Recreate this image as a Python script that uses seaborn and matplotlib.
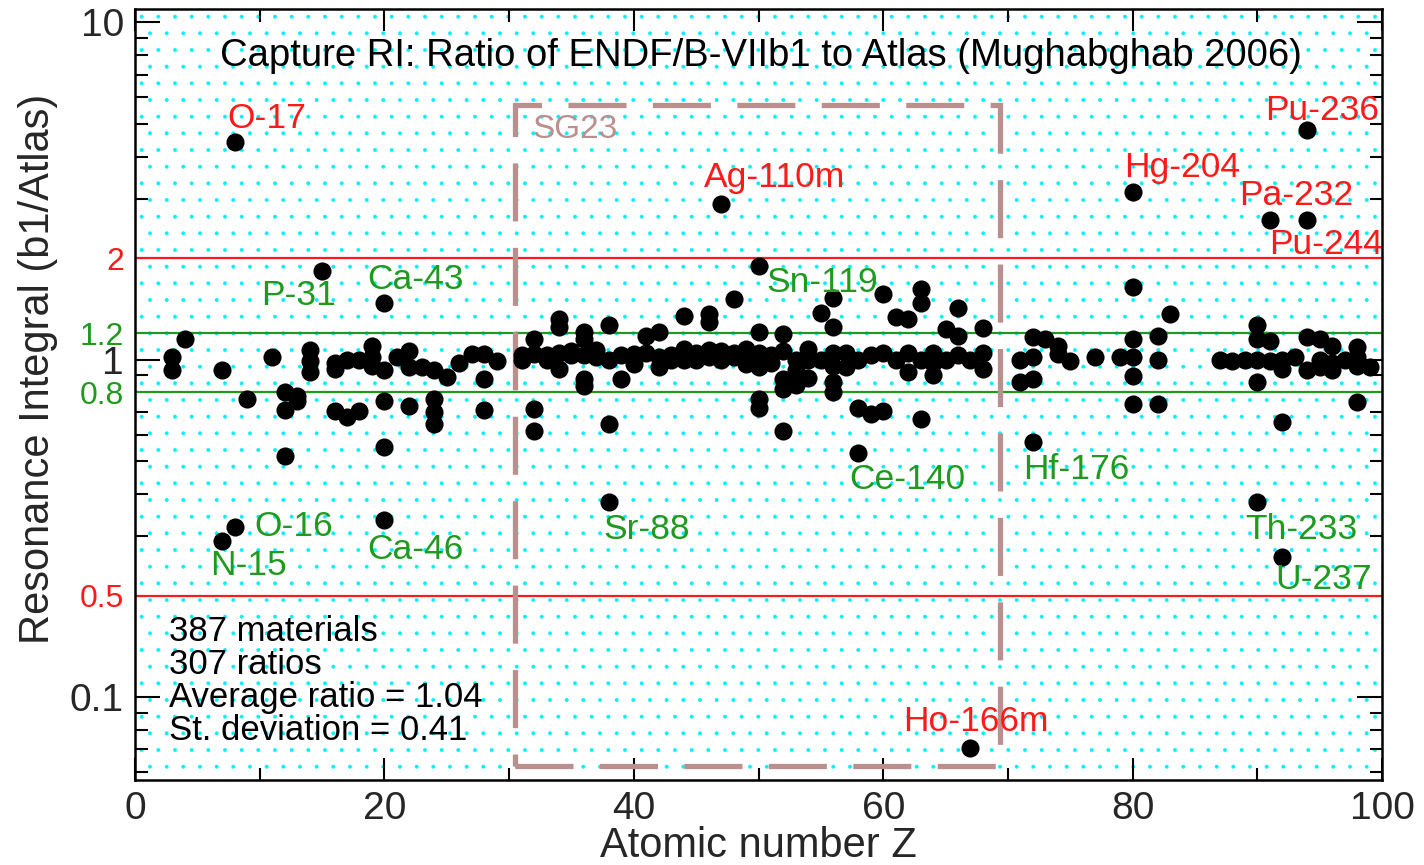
import numpy as np
import pandas as pd
import matplotlib
matplotlib.use("Agg")
import matplotlib.pyplot as plt
import matplotlib.patches as mpatches
import seaborn as sns

# ---------------------------------
# Data: atomic number Z and ratio b1/Atlas
# ---------------------------------

z_vals = [
    3, 3, 4, 7, 7, 8, 8, 9, 11, 12, 12, 12, 13, 13, 14, 14, 14, 15,
    16, 16, 16, 17, 17, 18, 18, 19, 19, 19, 20, 20, 20, 20, 20, 21,
    22, 22, 22, 23, 24, 24, 24, 24, 25, 26, 27, 28, 28, 28, 29,
    31, 31, 32, 32, 32, 32, 33, 33, 34, 34, 34, 34, 35, 35,
    36, 36, 36, 36, 36, 37, 37, 38, 38, 38, 38, 39, 39, 40, 40,
    41, 41, 42, 42, 42, 43, 43, 44, 44, 44, 45, 45, 46, 46, 46, 46,
    47, 47, 47, 48, 48, 48, 49, 49, 49, 50, 50, 50, 50, 50, 50,
    51, 51, 52, 52, 52, 52, 52, 53, 53, 53, 54, 54, 54, 55, 55,
    56, 56, 56, 56, 56, 56, 57, 57, 58, 58, 58, 59, 59, 60, 60, 60,
    61, 61, 62, 62, 62, 63, 63, 63, 63, 64, 64, 64, 65, 65,
    66, 66, 66, 67, 67, 68, 68, 68,
    71, 71, 72, 72, 72, 72, 73, 74, 74, 75, 77, 79,
    80, 80, 80, 80, 80, 80, 82, 82, 82, 83, 87, 88, 89,
    90, 90, 90, 90, 90, 91, 91, 91, 92, 92, 92, 92, 93,
    94, 94, 94, 94, 95, 95, 95, 96, 96, 96, 97, 98, 98, 98, 98, 99,
]

ratio_vals = [
    1.02, 0.93, 1.15, 0.93, 0.29, 4.43, 0.32, 0.765, 1.02, 0.80, 0.71, 0.52, 0.755, 0.78, 1.07, 0.99, 0.92, 1.83,
    0.98, 0.94, 0.706, 1.00, 0.675, 1.00, 0.706, 1.10, 1.02, 0.96, 0.93, 1.47, 0.755, 0.55, 0.334, 1.02,
    1.06, 0.95, 0.73, 0.95, 0.93, 0.765, 0.70, 0.645, 0.89, 0.98, 1.04, 1.04, 0.88, 0.71, 0.99,
    1.03, 1.00, 1.15, 1.04, 0.714, 0.616, 1.03, 1.00, 1.32, 1.25, 1.05, 0.94, 1.03, 1.06,
    1.21, 1.15, 1.03, 0.876, 0.837, 1.07, 1.02, 1.27, 1.00, 0.645, 0.38, 0.876, 1.03, 1.04, 0.97,
    1.18, 1.05, 1.21, 1.02, 0.95, 1.03, 1.00, 1.35, 1.08, 1.00, 1.05, 1.00, 1.37, 1.29, 1.07, 1.02,
    2.90, 1.06, 1.00, 1.51, 1.05, 1.02, 1.08, 1.00, 0.97, 1.90, 1.21, 1.05, 0.95, 0.765, 0.72,
    1.03, 0.98, 1.19, 1.06, 0.876, 0.82, 0.616, 1.00, 0.84, 0.93, 1.08, 1.00, 0.886, 1.38, 1.00,
    1.52, 1.25, 1.05, 0.96, 0.857, 0.80, 1.05, 0.95, 1.00, 0.72, 0.53, 1.03, 0.69, 1.57, 1.05, 0.706,
    1.34, 1.00, 1.32, 1.05, 0.918, 1.62, 1.47, 1.00, 0.667, 1.05, 0.98, 0.90, 1.23, 1.00,
    1.42, 1.18, 1.03, 1.00, 0.0708, 1.24, 1.05, 0.94,
    1.00, 0.857, 1.17, 1.02, 0.876, 0.57, 1.15, 1.10, 1.04, 0.99, 1.02, 1.02,
    3.15, 1.64, 1.15, 1.02, 0.893, 0.74, 1.18, 1.00, 0.74, 1.37, 1.00, 0.99, 1.00,
    1.27, 1.15, 1.00, 0.86, 0.38, 2.60, 1.14, 0.99, 1.00, 0.94, 0.655, 0.26, 1.02,
    4.80, 2.60, 1.17, 0.93, 1.15, 0.95, 1.00, 1.10, 0.98, 0.93, 1.00, 1.09, 1.02, 0.96, 0.75, 0.95,
]

# labelled outliers: text, Z position, ratio position
red_labels = ["O-17", "Ag-110m", "Hg-204", "Pu-236", "Pa-232", "Pu-244", "Ho-166m"]
red_label_z = [10.6, 51.3, 84.0, 95.2, 93.1, 95.5, 67.4]
red_label_r = [5.18, 3.48, 3.71, 5.5, 3.06, 2.19, 0.0845]

green_labels = ["P-31", "Ca-43", "Sn-119", "Ce-140", "Hf-176", "Th-233", "U-237",
                "O-16", "N-15", "Ca-46", "Sr-88"]
green_label_z = [13.1, 22.5, 55.1, 61.9, 75.5, 93.5, 95.3, 12.7, 9.1, 22.5, 41.0]
green_label_r = [1.556, 1.735, 1.70, 0.443, 0.473, 0.314, 0.223, 0.321, 0.2456, 0.274, 0.314]

# reference lines and tick labels
ref_red = [2.0, 0.2]
ref_green = [1.2, 0.8]
ytick_pos = [0.1, 0.2, 0.8, 1.0, 1.2, 2.0, 10.0]
ytick_text = ["0.1", "0.5", "0.8", "1", "1.2", "2", "10"]

sg23_z = (30.5, 69.4)
sg23_r = (0.0624, 5.70)

stats_lines = ["387 materials", "307 ratios", "Average ratio = 1.04", "St. deviation = 0.41"]

df = pd.DataFrame({"Z": z_vals, "ratio": ratio_vals})

RED = "#ff1a1a"
GREEN = "#1f9a1f"
SG_COLOR = "#bc8f8f"

# ---------------------------------
# Style
# ---------------------------------

sns.set_style("ticks")
plt.rcParams["font.family"] = ["Liberation Sans", "DejaVu Sans"]
plt.rcParams["hatch.linewidth"] = 0.35

fig = plt.figure(figsize=(14.24, 8.65), dpi=100)
ax = fig.add_axes([135 / 1424, 1 - 780 / 865, (1382 - 135) / 1424, (780 - 9) / 865])

# dotted cyan background
bg = mpatches.Rectangle((0, 0), 1, 1, transform=ax.transAxes, facecolor="white",
                        edgecolor="#00f0ff", linewidth=0, hatch=".", zorder=0)
ax.add_patch(bg)

ax.set_yscale("log")
ax.set_xlim(0, 100)
ax.set_ylim(0.0568, 10.96)

for r in ref_red:
    ax.axhline(r, color=RED, lw=1.6, zorder=2)
for r in ref_green:
    ax.axhline(r, color=GREEN, lw=1.6, zorder=2)

sg_box = mpatches.Rectangle((sg23_z[0], sg23_r[0]), sg23_z[1] - sg23_z[0], sg23_r[1] - sg23_r[0],
                            fill=False, edgecolor=SG_COLOR, lw=3.8, linestyle=(0, (11, 5)), zorder=2)
ax.add_patch(sg_box)

sns.scatterplot(data=df, x="Z", y="ratio", ax=ax, color="black", s=170,
                edgecolor="black", linewidth=0, zorder=3, legend=False)

# ---------------------------------
# Text
# ---------------------------------

ax.text(50.2, 7.96, "Capture RI: Ratio of ENDF/B-VIIb1 to Atlas (Mughabghab 2006)",
        ha="center", va="center", fontsize=27.5, color="black", zorder=4)
ax.text(35.3, 4.80, "SG23", ha="center", va="center", fontsize=24, color=SG_COLOR, zorder=4)

for t, zx, ry in zip(red_labels, red_label_z, red_label_r):
    ax.text(zx, ry, t, ha="center", va="center", fontsize=25.5, color=RED, zorder=4)
for t, zx, ry in zip(green_labels, green_label_z, green_label_r):
    ax.text(zx, ry, t, ha="center", va="center", fontsize=25.5, color=GREEN, zorder=4)

for i, line in enumerate(stats_lines):
    ax.text(0.027, 0.192 - i * 0.0428, line, transform=ax.transAxes,
            ha="left", va="center", fontsize=25, color="black", zorder=4)

# ---------------------------------
# Axes and ticks
# ---------------------------------

ax.set_xlabel("Atomic number Z", fontsize=30, va="center")
ax.xaxis.set_label_coords(0.5, -0.086)
ax.set_ylabel("Resonance Integral (b1/Atlas)", fontsize=30, va="center")
ax.yaxis.set_label_coords(-0.078, 0.533)

ax.set_xticks([0, 20, 40, 60, 80, 100])
ax.set_xticks([10, 30, 50, 70, 90], minor=True)
ax.set_yticks(ytick_pos, ytick_text)
ax.yaxis.set_minor_locator(matplotlib.ticker.LogLocator(base=10, subs=np.arange(2, 10)))
ax.yaxis.set_minor_formatter(matplotlib.ticker.NullFormatter())

ax.tick_params(axis="both", which="major", direction="in", top=True, right=True,
               length=18, width=1.5, labelsize=28, color="black")
ax.tick_params(axis="both", which="minor", direction="in", top=True, right=True,
               length=9, width=1.5, color="black")
ax.tick_params(axis="x", which="major", length=16, pad=8)
ax.tick_params(axis="y", which="major", pad=8)

label_colors = {"0.5": RED, "0.8": GREEN, "1.2": GREEN, "2": RED}
for tick, txt in zip(ax.yaxis.get_major_ticks(), ytick_text):
    if txt in label_colors:
        tick.label1.set_color(label_colors[txt])
        tick.label1.set_fontsize(23)
        tick.tick1line.set_visible(False)
        tick.tick2line.set_visible(False)

for sp in ax.spines.values():
    sp.set_linewidth(1.8)
    sp.set_color("black")
    sp.set_zorder(5)

fig.savefig("out.png", dpi=100)
